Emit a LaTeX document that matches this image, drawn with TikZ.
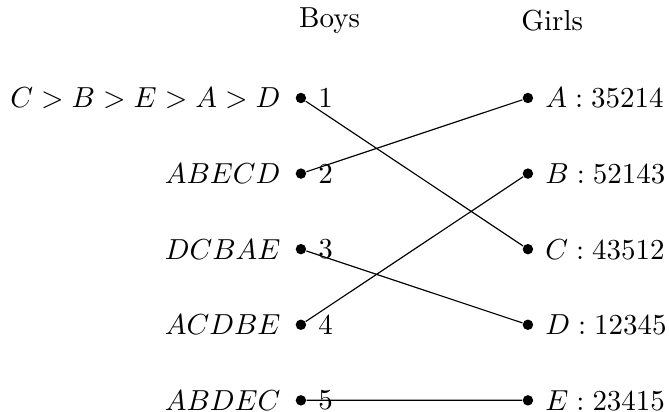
\documentclass[tikz,border=0pt]{standalone}
\begin{document}
\begin{tikzpicture}
[scale=.974,dot/.style={circle,fill=black,inner sep=0pt,minimum size=3.6pt},
 every label/.style={label distance=.5pt}]
\useasboundingbox (-3.75,-3.913) rectangle (4.587,1.221);
\node[anchor=west] (boys) at (-0.15,0.96) {Boys};
\node[anchor=west] (girls) at (2.62,0.96) {Girls};
\node[dot,label={[label distance=1.5pt]left:{$C>B>E>A>D$}},label=right:1] (1) at (0,0) {};
\node[dot,label={[label distance=1.5pt]left:{$ABECD$}},label=right:2] (2) at (0,-0.942) {};
\node[dot,label={[label distance=1.5pt]left:{$DCBAE$}},label=right:3] (3) at (0,-1.884) {};
\node[dot,label={[label distance=1.5pt]left:{$ACDBE$}},label=right:4] (4) at (0,-2.826) {};
\node[dot,label={[label distance=1.5pt]left:{$ABDEC$}},label=right:5] (5) at (0,-3.768) {};
\node[dot,label=right:{$A:35214$}] (A) at (2.829,0) {};
\node[dot,label=right:{$B:52143$}] (B) at (2.829,-0.942) {};
\node[dot,label=right:{$C:43512$}] (C) at (2.829,-1.884) {};
\node[dot,label=right:{$D:12345$}] (D) at (2.829,-2.826) {};
\node[dot,label=right:{$E:23415$}] (E) at (2.829,-3.768) {};
\draw (1) -- (C);
\draw (2) -- (A);
\draw (3) -- (D);
\draw (4) -- (B);
\draw (5) -- (E);
\end{tikzpicture}
\end{document}
